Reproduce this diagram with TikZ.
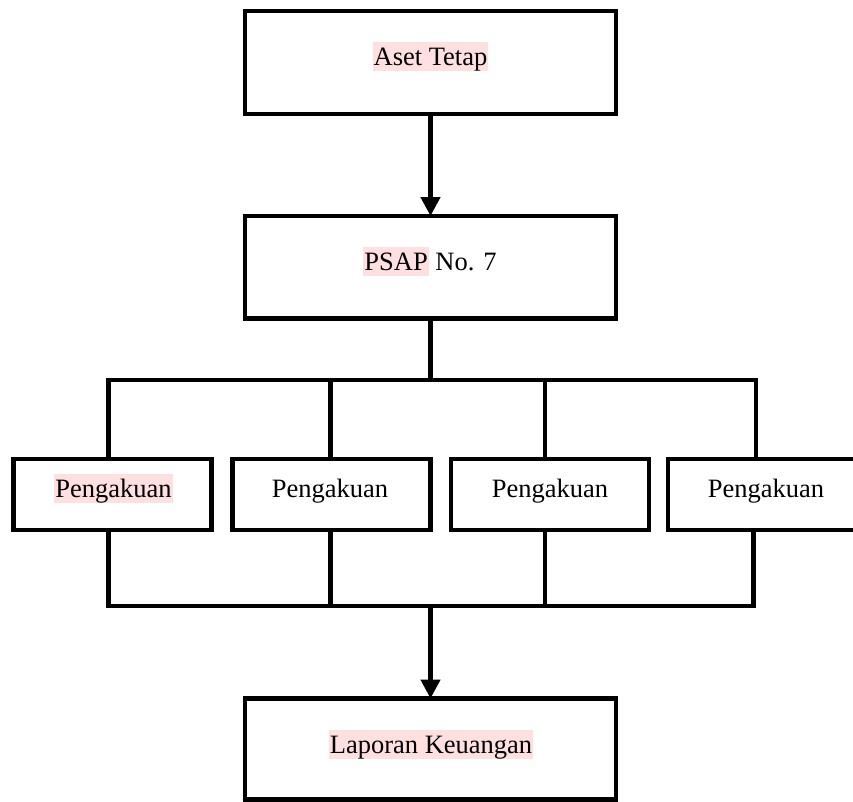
\documentclass[tikz,border=0pt]{standalone}
\usepackage{fontspec}
\setmainfont{Liberation Serif}
\usetikzlibrary{arrows.meta}
\definecolor{hlpink}{HTML}{FFE0E0}
\newcommand\hlpk[1]{{\setlength{\fboxsep}{0pt}\colorbox{hlpink}{\kern1pt\rule[-6pt]{0pt}{29pt}#1\kern1pt}}}
\begin{document}
\begin{tikzpicture}[x=1pt,y=-1pt,
  box/.style={draw=black,line width=4.5pt,rectangle,inner sep=0pt,outer sep=0pt,fill=white},
  bigbox/.style={box,minimum width=371pt},
  smallbox/.style={box,minimum width=198pt,minimum height=71pt},
  lbl/.style={anchor=base,inner sep=0pt,font=\fontsize{26.5}{31}\selectfont},
  conn/.style={line width=4.5pt,line join=miter},
  arr/.style={conn,-{Triangle[length=19pt,width=19pt]}}]
\useasboundingbox (0,0) rectangle (853,801);
\clip (0,0) rectangle (853,801);
% boxes
\node[bigbox,minimum height=103pt] (top) at (430.5,62.5) {};
\node[bigbox,minimum height=102.5pt] (psap) at (430.5,267.25) {};
\node[smallbox] (b1) at (112.5,494.5) {};
\node[smallbox] (b2) at (331.25,494.5) {};
\node[smallbox] (b3) at (549.75,494.5) {};
\node[smallbox] (b4) at (766.75,494.5) {};
\node[bigbox,minimum height=101pt] (bot) at (430.5,749) {};
% labels
\node[lbl] (ttop) at (430.5,65) {\hlpk{Aset Tetap}};
\node[lbl] (tpsap) at (430,270) {\hlpk{PSAP} No. 7};
\node[lbl] (t1) at (113.5,497) {\hlpk{Pengakuan}};
\node[lbl] (t2) at (330,497) {Pengakuan};
\node[lbl] (t3) at (550,497) {Pengakuan};
\node[lbl] (t4) at (766,497) {Pengakuan};
\node[lbl] (tbot) at (431,753) {\hlpk{Laporan Keuangan}};
% junction coordinates
\coordinate (c1) at (108.5,380);
\coordinate (c2) at (330.5,380);
\coordinate (c3) at (545,380);
\coordinate (c4) at (756,380);
\coordinate (d1) at (108.5,606);
\coordinate (d2) at (330.5,606);
\coordinate (d3) at (545,606);
\coordinate (d4) at (753.5,606);
% connectors
\draw[arr] (top.south) -- (psap.north);
\draw[conn] (psap.south) -- (psap.south |- c1);
\draw[conn] (c1 |- b1.north) -- (c1) -- (c4) -- (c4 |- b4.north);
\draw[conn] (c2) -- (c2 |- b2.north);
\draw[conn] (c3) -- (c3 |- b3.north);
\draw[conn] (d1 |- b1.south) -- (d1) -- (d4) -- (d4 |- b4.south);
\draw[conn] (d2 |- b2.south) -- (d2);
\draw[conn] (d3 |- b3.south) -- (d3);
\draw[arr] (d1 -| bot.north) -- (bot.north);
\end{tikzpicture}
\end{document}
